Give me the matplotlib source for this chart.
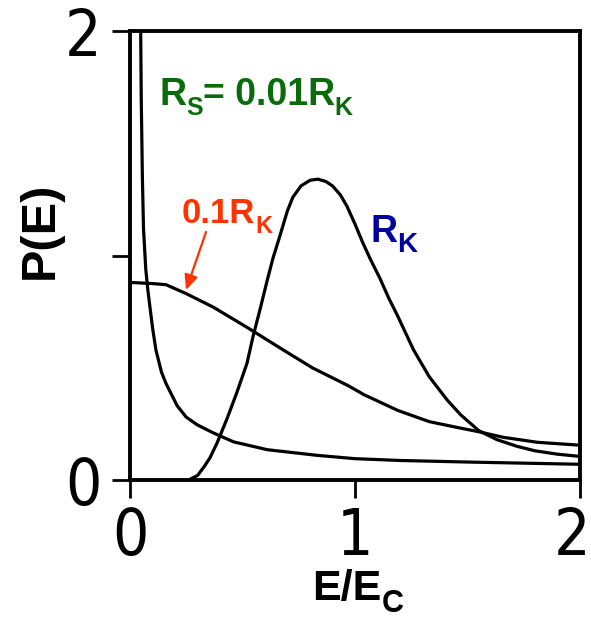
import matplotlib
matplotlib.use('Agg')
import matplotlib.pyplot as plt
from matplotlib import font_manager
from matplotlib.font_manager import FontProperties
from matplotlib.transforms import ScaledTranslation

# ---------------- data ----------------
# R_S = 0.01 R_K
x_001 = [0.045, 0.05, 0.055, 0.06, 0.07, 0.08, 0.09, 0.10, 0.115, 0.14, 0.16, 0.18,
         0.21, 0.25, 0.30, 0.37, 0.46, 0.61, 0.83, 1.0, 1.2, 1.5, 2.0]
y_001 = [2.3, 1.7, 1.35, 1.12, 0.94, 0.84, 0.76, 0.68, 0.58, 0.48, 0.43, 0.39,
         0.33, 0.28, 0.245, 0.21, 0.17, 0.135, 0.11, 0.095, 0.087, 0.08, 0.07]

# R_S = 0.1 R_K
x_01 = [0.0, 0.10, 0.16, 0.25, 0.37, 0.52, 0.68, 0.81, 0.89, 0.97, 1.04, 1.19,
        1.33, 1.45, 1.55, 1.66, 1.81, 2.0]
y_01 = [0.88, 0.875, 0.87, 0.83, 0.77, 0.68, 0.58, 0.50, 0.46, 0.42, 0.38, 0.31,
        0.26, 0.235, 0.215, 0.19, 0.168, 0.155]

# R_S = R_K
x_rk = [0.26, 0.30, 0.33, 0.356, 0.387, 0.43, 0.475, 0.52, 0.547, 0.578, 0.61, 0.636,
        0.667, 0.70, 0.724, 0.76, 0.80, 0.835, 0.87, 0.90, 0.935, 0.964, 1.0, 1.035,
        1.07, 1.11, 1.15, 1.19, 1.26, 1.33, 1.41, 1.47, 1.55, 1.63, 1.72, 1.80, 1.90, 2.0]
y_rk = [0.0, 0.02, 0.06, 0.10, 0.165, 0.27, 0.39, 0.52, 0.64, 0.76, 0.89, 0.99,
        1.09, 1.20, 1.26, 1.31, 1.335, 1.34, 1.33, 1.31, 1.27, 1.22, 1.14, 1.056,
        0.98, 0.90, 0.81, 0.73, 0.58, 0.46, 0.356, 0.29, 0.22, 0.18, 0.15, 0.13, 0.115, 0.105]

x_ticks = [0, 1, 2]
x_ticklabels = ['0', '1', '2']
y_ticks = [0, 1, 2]
y_ticklabels = ['0', '', '2']

# ---------------- fonts ----------------
def find_narrow():
    best = None
    for f in font_manager.fontManager.ttflist:
        nm = f.name + ' ' + f.fname
        narrow = ('Narrow' in nm or 'Condensed' in nm or
                  str(f.stretch) in ('condensed', 'semi-condensed', 'extra-condensed', '75', '87'))
        if not narrow or f.style != 'normal':
            continue
        w = f.weight if isinstance(f.weight, int) else (700 if 'bold' in str(f.weight) else 400)
        if w >= 600:
            continue
        score = 0
        if 'Liberation' in nm:
            score += 3
        if 'DejaVu' in nm:
            score += 2
        if best is None or score > best[0]:
            best = (score, f.fname)
    return best[1] if best else None

narrow_file = find_narrow()
if narrow_file:
    tick_fp = FontProperties(fname=narrow_file, size=46)
else:
    tick_fp = FontProperties(family='Liberation Sans', size=43)

BOLD = dict(family='Liberation Sans', fontweight='bold')

# ---------------- figure ----------------
W, H = 591, 624
fig = plt.figure(figsize=(W / 100, H / 100), dpi=100)
ax = fig.add_axes([130 / W, 1 - 480 / H, 450 / W, 449 / H])
ax.set_xlim(0, 2)
ax.set_ylim(0, 2)

lw = 2.3
ax.plot(x_001, y_001, color='black', lw=lw, solid_joinstyle='round')
ax.plot(x_01, y_01, color='black', lw=lw, solid_joinstyle='round')
ax.plot(x_rk, y_rk, color='black', lw=lw, solid_joinstyle='round')

for s in ax.spines.values():
    s.set_linewidth(2.8)
    s.set_color('black')

ax.set_xticks(x_ticks)
ax.set_xticklabels(x_ticklabels)
ax.set_yticks(y_ticks)
ax.set_yticklabels(y_ticklabels)
ax.tick_params(axis='both', direction='out', length=13, width=2, color='black')
ax.tick_params(axis='x', pad=6)
ax.tick_params(axis='y', pad=7.5)
for lab in ax.get_xticklabels() + ax.get_yticklabels():
    lab.set_fontproperties(tick_fp)
    lab.set_color('black')

# keep the right-most x tick label inside the figure
last = ax.xaxis.get_major_ticks()[-1].label1
last.set_transform(last.get_transform() + ScaledTranslation(-8 / 100, 0, fig.dpi_scale_trans))

# y axis label
ax.set_ylabel('P(E)', fontsize=35, va='center', **BOLD)
ax.yaxis.set_label_coords(-0.2, 0.555)


def sub_text(x, y, pieces, color, coords='data'):
    """pieces: list of (string, fontsize_pt, drop_pt); drawn left to right."""
    s, size, drop = pieces[0]
    tr = ax.transData if coords == 'data' else ax.transAxes
    prev = ax.text(x, y, s, transform=tr, fontsize=size, color=color,
                   ha='left', va='baseline', **BOLD)
    for s, size, drop in pieces[1:]:
        prev = ax.annotate(s, xy=(1, y), xycoords=(prev, coords),
                           xytext=(0, -drop), textcoords='offset points',
                           fontsize=size, color=color, ha='left', va='baseline',
                           annotation_clip=False, **BOLD)
    return prev


# x axis label  E/E_C
sub_text(0.405, -0.267, [('E/E', 31, 0), ('C', 22, 9)], 'black', coords='axes fraction')

# annotations
sub_text(0.129, 1.67, [('R', 27, 0), ('S', 18, 7), ('= 0.01R', 27, 0), ('K', 18, 7)], '#0a6b0a')
sub_text(0.231, 1.145, [('0.1R', 25, 0), ('K', 17, 7)], '#ff3300')
sub_text(1.067, 1.06, [('R', 27, 0), ('K', 20, 7)], '#0000a0')

ax.annotate('', xy=(0.249, 0.846), xytext=(0.338, 1.105),
            arrowprops=dict(arrowstyle='-|>,head_length=0.9,head_width=0.4',
                            color='#ff3300', lw=1.6, shrinkA=0, shrinkB=0))

fig.savefig('out.png', dpi=100)
